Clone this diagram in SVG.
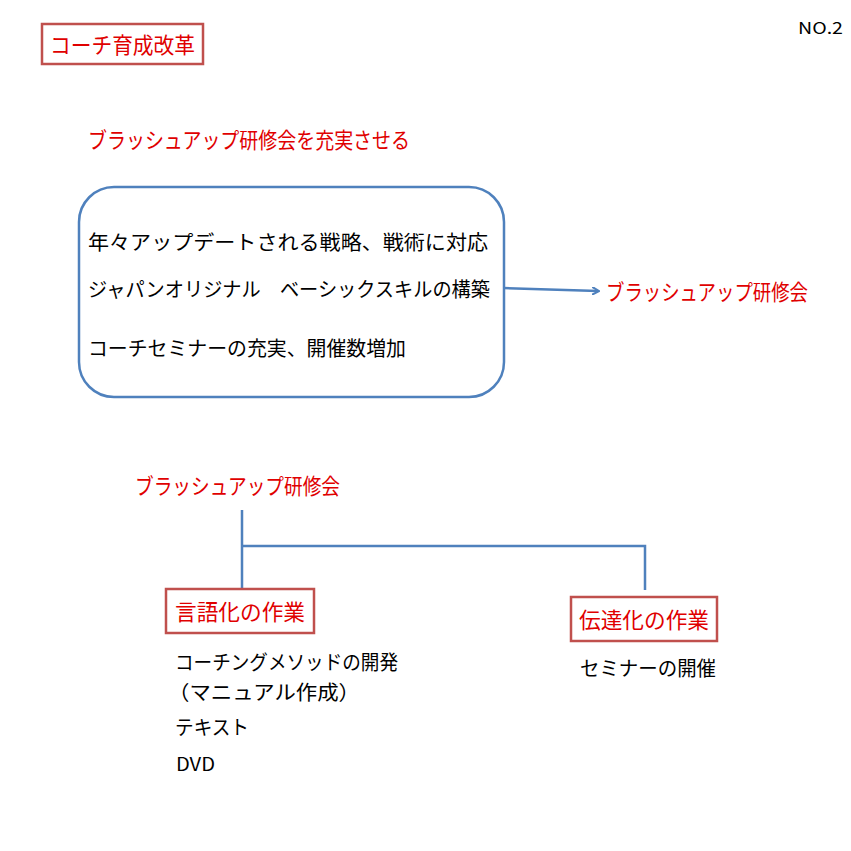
<svg xmlns="http://www.w3.org/2000/svg" width="851" height="851" viewBox="0 0 851 851">
<style>
text{font-family:"Noto Sans CJK JP","Liberation Sans",sans-serif;}
.r{fill:#e00000;font-size:22px}
.k{fill:#000;font-size:20px}
.box{fill:#fff;stroke:#c0504d;stroke-width:2.5}
.ln{fill:none;stroke:#4f81bd;stroke-width:2.5}
</style>
<defs><marker id="a" markerWidth="8" markerHeight="8" refX="6" refY="4" orient="auto" markerUnits="userSpaceOnUse"><path d="M0,0 L7,4 L0,8" fill="none" stroke="#4f81bd" stroke-width="2"/></marker></defs>
<rect width="851" height="851" fill="#fff"/>
<g id="title"><rect class="box" x="42" y="24" width="161" height="40"/><text class="r" x="50" y="53" textLength="145" lengthAdjust="spacingAndGlyphs">コーチ育成改革</text></g>
<g id="no"><text x="798" y="34" font-size="16" font-family="Liberation Sans,sans-serif" textLength="45" lengthAdjust="spacingAndGlyphs">NO.2</text></g>
<g id="head"><text class="r" x="88" y="148" textLength="322" lengthAdjust="spacingAndGlyphs">ブラッシュアップ研修会を充実させる</text></g>
<g id="main"><rect class="ln" x="79" y="187" width="425" height="210" rx="35"/>
<text class="k" x="88" y="250" textLength="400" lengthAdjust="spacingAndGlyphs">年々アップデートされる戦略、戦術に対応</text>
<text class="k" x="88" y="297" textLength="402" lengthAdjust="spacingAndGlyphs">ジャパンオリジナル　ベーシックスキルの構築</text>
<text class="k" x="88" y="356" textLength="318" lengthAdjust="spacingAndGlyphs">コーチセミナーの充実、開催数増加</text></g>
<g id="out"><text class="r" x="606" y="300" textLength="202" lengthAdjust="spacingAndGlyphs">ブラッシュアップ研修会</text></g>
<g id="sub"><text class="r" x="135" y="494" textLength="205" lengthAdjust="spacingAndGlyphs">ブラッシュアップ研修会</text></g>
<g id="connectors">
<path class="ln" d="M504,288 L598,291" marker-end="url(#a)"/>
<path class="ln" d="M242,510 V590 M242,546 H645 V590"/>
</g>
<g id="gengo"><rect class="box" x="166" y="589" width="148" height="44"/><text class="r" x="175" y="620" textLength="130" lengthAdjust="spacingAndGlyphs">言語化の作業</text>
<text class="k" x="175" y="670" textLength="223" lengthAdjust="spacingAndGlyphs">コーチングメソッドの開発</text>
<text class="k" x="168" y="700" textLength="192" lengthAdjust="spacingAndGlyphs">（マニュアル作成）</text>
<text class="k" x="175" y="735" textLength="74" lengthAdjust="spacingAndGlyphs">テキスト</text>
<text x="176" y="771" font-size="18" font-family="Liberation Sans,sans-serif" textLength="39" lengthAdjust="spacingAndGlyphs">DVD</text></g>
<g id="dentatsu"><rect class="box" x="571" y="597" width="146" height="44"/><text class="r" x="579" y="628" textLength="130" lengthAdjust="spacingAndGlyphs">伝達化の作業</text>
<text class="k" x="580" y="676" textLength="136" lengthAdjust="spacingAndGlyphs">セミナーの開催</text></g>
</svg>
